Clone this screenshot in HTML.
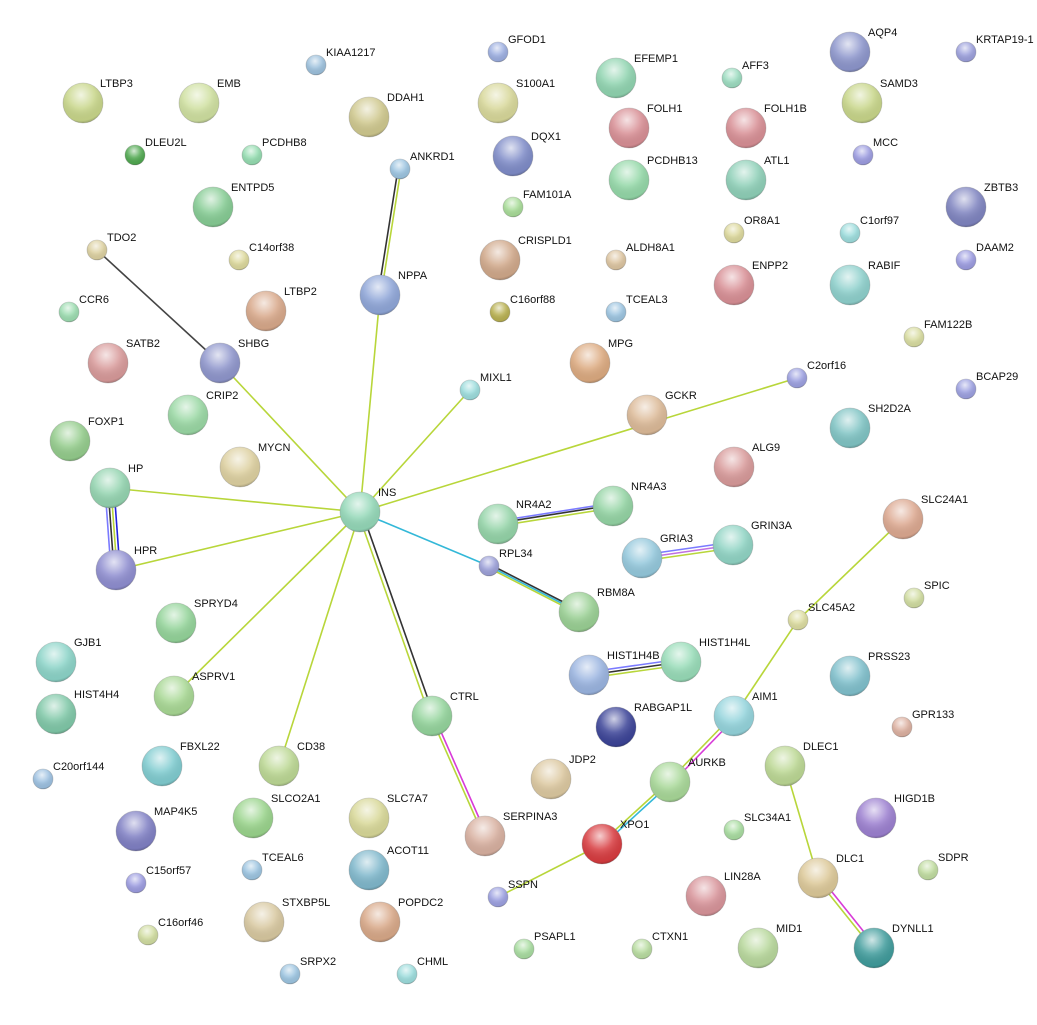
<!DOCTYPE html>
<html><head><meta charset="utf-8"><style>
html,body{margin:0;padding:0;background:#fff;}
svg text{font-family:"Liberation Sans",sans-serif;font-size:11px;fill:#111;}
</style></head><body>
<svg width="1037" height="1020" viewBox="0 0 1037 1020" xmlns="http://www.w3.org/2000/svg">
<defs>
<radialGradient id="hl" cx="0.45" cy="0.3" r="0.75">
<stop offset="0" stop-color="#fff" stop-opacity="0.75"/>
<stop offset="0.45" stop-color="#fff" stop-opacity="0.15"/>
<stop offset="0.85" stop-color="#000" stop-opacity="0.05"/>
<stop offset="1" stop-color="#000" stop-opacity="0.35"/>
</radialGradient>
</defs>
<g stroke-width="1.6" fill="none">
<line x1="97" y1="250" x2="220" y2="363" stroke="#444"/>
<line x1="220" y1="363" x2="360" y2="512" stroke="#b8d63a"/>
<line x1="398" y1="169" x2="378" y2="295" stroke="#333"/>
<line x1="401" y1="169" x2="381" y2="295" stroke="#b8d63a"/>
<line x1="380" y1="295" x2="360" y2="512" stroke="#b8d63a"/>
<line x1="470" y1="390" x2="360" y2="512" stroke="#b8d63a"/>
<line x1="797" y1="378" x2="360" y2="512" stroke="#b8d63a"/>
<line x1="110" y1="488" x2="360" y2="512" stroke="#b8d63a"/>
<line x1="116" y1="570" x2="360" y2="512" stroke="#b8d63a"/>
<line x1="105" y1="488" x2="111" y2="570" stroke="#7a7aff"/>
<line x1="108" y1="488" x2="114" y2="570" stroke="#333"/>
<line x1="111" y1="488" x2="117" y2="570" stroke="#b8d63a"/>
<line x1="114" y1="488" x2="120" y2="570" stroke="#2222dd"/>
<line x1="360" y1="512" x2="174" y2="696" stroke="#b8d63a"/>
<line x1="360" y1="512" x2="279" y2="766" stroke="#b8d63a"/>
<line x1="360" y1="512" x2="489" y2="566" stroke="#33b8d8"/>
<line x1="362" y1="512" x2="434" y2="716" stroke="#333"/>
<line x1="358" y1="513" x2="430" y2="717" stroke="#b8d63a"/>
<line x1="434" y1="716" x2="487" y2="836" stroke="#d83ad8"/>
<line x1="431" y1="717" x2="484" y2="837" stroke="#b8d63a"/>
<line x1="489" y1="564" x2="579" y2="610" stroke="#333"/>
<line x1="489" y1="566" x2="579" y2="612" stroke="#33b8d8"/>
<line x1="489" y1="568" x2="579" y2="614" stroke="#b8d63a"/>
<line x1="498" y1="521" x2="613" y2="503" stroke="#7a7aff"/>
<line x1="498" y1="523" x2="613" y2="505" stroke="#333"/>
<line x1="498" y1="526" x2="613" y2="508" stroke="#b8d63a"/>
<line x1="642" y1="555" x2="733" y2="542" stroke="#7a7aff"/>
<line x1="642" y1="558" x2="733" y2="545" stroke="#c070e0"/>
<line x1="642" y1="561" x2="733" y2="548" stroke="#b8d63a"/>
<line x1="589" y1="672" x2="681" y2="659" stroke="#7a7aff"/>
<line x1="589" y1="675" x2="681" y2="662" stroke="#333"/>
<line x1="589" y1="678" x2="681" y2="665" stroke="#b8d63a"/>
<line x1="903" y1="519" x2="798" y2="620" stroke="#b8d63a"/>
<line x1="798" y1="620" x2="734" y2="716" stroke="#b8d63a"/>
<line x1="736" y1="717" x2="672" y2="783" stroke="#d83ad8"/>
<line x1="733" y1="715" x2="669" y2="781" stroke="#b8d63a"/>
<line x1="671" y1="783" x2="603" y2="845" stroke="#33b8d8"/>
<line x1="669" y1="781" x2="601" y2="843" stroke="#b8d63a"/>
<line x1="602" y1="844" x2="498" y2="897" stroke="#b8d63a"/>
<line x1="785" y1="766" x2="818" y2="878" stroke="#b8d63a"/>
<line x1="820" y1="877" x2="876" y2="947" stroke="#d83ad8"/>
<line x1="817" y1="879" x2="873" y2="949" stroke="#b8d63a"/>
</g>
<g stroke="#777" stroke-opacity="0.35" stroke-width="0.8">
<!-- big nodes -->
<circle cx="83" cy="103" r="20" fill="#c8d68a"/><circle cx="199" cy="103" r="20" fill="#cfe0a0"/>
<circle cx="369" cy="117" r="20" fill="#cfc88e"/><circle cx="498" cy="103" r="20" fill="#d8d89a"/>
<circle cx="616" cy="78" r="20" fill="#90d4b0"/><circle cx="850" cy="52" r="20" fill="#8d96cc"/>
<circle cx="862" cy="103" r="20" fill="#c8d68a"/><circle cx="629" cy="128" r="20" fill="#d88f95"/>
<circle cx="746" cy="128" r="20" fill="#d88f95"/><circle cx="513" cy="156" r="20" fill="#7f8cc8"/>
<circle cx="629" cy="180" r="20" fill="#94d8a8"/><circle cx="746" cy="180" r="20" fill="#8fd0b8"/>
<circle cx="213" cy="207" r="20" fill="#86cc94"/><circle cx="966" cy="207" r="20" fill="#7f84c0"/>
<circle cx="500" cy="260" r="20" fill="#d0a88a"/><circle cx="380" cy="295" r="20" fill="#8fa6d8"/>
<circle cx="266" cy="311" r="20" fill="#d8a88a"/><circle cx="734" cy="285" r="20" fill="#d88f95"/>
<circle cx="850" cy="285" r="20" fill="#8ed0cc"/><circle cx="108" cy="363" r="20" fill="#d89a9a"/>
<circle cx="220" cy="363" r="20" fill="#8f96cc"/><circle cx="590" cy="363" r="20" fill="#dcaa80"/>
<circle cx="188" cy="415" r="20" fill="#9ad8a4"/><circle cx="647" cy="415" r="20" fill="#dcba98"/>
<circle cx="850" cy="428" r="20" fill="#80c4c4"/><circle cx="70" cy="441" r="20" fill="#94cc8c"/>
<circle cx="240" cy="467" r="20" fill="#ddd0a0"/><circle cx="734" cy="467" r="20" fill="#d89a9a"/>
<circle cx="110" cy="488" r="20" fill="#94d4b0"/><circle cx="360" cy="512" r="20" fill="#94d8b8"/>
<circle cx="498" cy="524" r="20" fill="#94d4a8"/><circle cx="613" cy="506" r="20" fill="#94d4a4"/>
<circle cx="903" cy="519" r="20" fill="#dca890"/><circle cx="642" cy="558" r="20" fill="#94c8dc"/>
<circle cx="733" cy="545" r="20" fill="#90d4c4"/><circle cx="116" cy="570" r="20" fill="#8f8ed0"/>
<circle cx="579" cy="612" r="20" fill="#9ad094"/><circle cx="176" cy="623" r="20" fill="#94d49a"/>
<circle cx="589" cy="675" r="20" fill="#9ab4e0"/><circle cx="681" cy="662" r="20" fill="#98dcb8"/>
<circle cx="850" cy="676" r="20" fill="#80c0cc"/><circle cx="56" cy="662" r="20" fill="#8cd4c8"/>
<circle cx="174" cy="696" r="20" fill="#a8d894"/><circle cx="56" cy="714" r="20" fill="#80c8a8"/>
<circle cx="432" cy="716" r="20" fill="#94d49c"/><circle cx="734" cy="716" r="20" fill="#94d4dc"/>
<circle cx="616" cy="727" r="20" fill="#3c4498"/><circle cx="162" cy="766" r="20" fill="#80ccd0"/>
<circle cx="279" cy="766" r="20" fill="#bcd894"/><circle cx="785" cy="766" r="20" fill="#bcd894"/>
<circle cx="551" cy="779" r="20" fill="#dcc8a0"/><circle cx="670" cy="782" r="20" fill="#a8d898"/>
<circle cx="253" cy="818" r="20" fill="#9ad48c"/><circle cx="369" cy="818" r="20" fill="#d8d898"/>
<circle cx="136" cy="831" r="20" fill="#8080c4"/><circle cx="876" cy="818" r="20" fill="#9c80d0"/>
<circle cx="485" cy="836" r="20" fill="#d8b0a0"/><circle cx="602" cy="844" r="20" fill="#d83c40"/>
<circle cx="369" cy="870" r="20" fill="#80b8cc"/><circle cx="818" cy="878" r="20" fill="#dcc898"/>
<circle cx="706" cy="896" r="20" fill="#d8949a"/><circle cx="264" cy="922" r="20" fill="#d8c8a0"/>
<circle cx="380" cy="922" r="20" fill="#d8a888"/><circle cx="758" cy="948" r="20" fill="#b8d89c"/>
<circle cx="874" cy="948" r="20" fill="#409c9c"/>
<!-- small nodes -->
<circle cx="316" cy="65" r="10" fill="#9cc0dc"/><circle cx="498" cy="52" r="10" fill="#9caee0"/>
<circle cx="966" cy="52" r="10" fill="#9ca0dc"/><circle cx="732" cy="78" r="10" fill="#9cdcc0"/>
<circle cx="135" cy="155" r="10" fill="#50a850"/><circle cx="252" cy="155" r="10" fill="#94dcb0"/>
<circle cx="400" cy="169" r="10" fill="#9cc4e0"/><circle cx="863" cy="155" r="10" fill="#9c9ce0"/>
<circle cx="513" cy="207" r="10" fill="#a8dc98"/><circle cx="97" cy="250" r="10" fill="#dcd0a0"/>
<circle cx="239" cy="260" r="10" fill="#dcd89c"/><circle cx="734" cy="233" r="10" fill="#dcd89c"/>
<circle cx="850" cy="233" r="10" fill="#9cdcdc"/><circle cx="966" cy="260" r="10" fill="#9c9ce0"/>
<circle cx="616" cy="260" r="10" fill="#dcc4a0"/><circle cx="69" cy="312" r="10" fill="#9cdcb0"/>
<circle cx="500" cy="312" r="10" fill="#b8b050"/><circle cx="616" cy="312" r="10" fill="#9cc4e0"/>
<circle cx="914" cy="337" r="10" fill="#d8dca0"/><circle cx="470" cy="390" r="10" fill="#9cdcdc"/>
<circle cx="797" cy="378" r="10" fill="#9ca0e0"/><circle cx="966" cy="389" r="10" fill="#9ca0e0"/>
<circle cx="489" cy="566" r="10" fill="#9ca0d8"/><circle cx="914" cy="598" r="10" fill="#d0dca0"/>
<circle cx="798" cy="620" r="10" fill="#dcdca0"/><circle cx="902" cy="727" r="10" fill="#dcb0a0"/>
<circle cx="43" cy="779" r="10" fill="#9cc0e0"/><circle cx="734" cy="830" r="10" fill="#a8dca0"/>
<circle cx="136" cy="883" r="10" fill="#9c9ce0"/><circle cx="252" cy="870" r="10" fill="#9cc4e0"/>
<circle cx="498" cy="897" r="10" fill="#9ca0e0"/><circle cx="928" cy="870" r="10" fill="#c0dca0"/>
<circle cx="148" cy="935" r="10" fill="#d0dca0"/><circle cx="524" cy="949" r="10" fill="#a8dca0"/>
<circle cx="642" cy="949" r="10" fill="#b8dca0"/><circle cx="290" cy="974" r="10" fill="#9cc4e0"/>
<circle cx="407" cy="974" r="10" fill="#9cdcdc"/>
</g>
<g fill="url(#hl)">
<circle cx="83" cy="103" r="20"/><circle cx="199" cy="103" r="20"/><circle cx="369" cy="117" r="20"/><circle cx="498" cy="103" r="20"/>
<circle cx="616" cy="78" r="20"/><circle cx="850" cy="52" r="20"/><circle cx="862" cy="103" r="20"/><circle cx="629" cy="128" r="20"/>
<circle cx="746" cy="128" r="20"/><circle cx="513" cy="156" r="20"/><circle cx="629" cy="180" r="20"/><circle cx="746" cy="180" r="20"/>
<circle cx="213" cy="207" r="20"/><circle cx="966" cy="207" r="20"/><circle cx="500" cy="260" r="20"/><circle cx="380" cy="295" r="20"/>
<circle cx="266" cy="311" r="20"/><circle cx="734" cy="285" r="20"/><circle cx="850" cy="285" r="20"/><circle cx="108" cy="363" r="20"/>
<circle cx="220" cy="363" r="20"/><circle cx="590" cy="363" r="20"/><circle cx="188" cy="415" r="20"/><circle cx="647" cy="415" r="20"/>
<circle cx="850" cy="428" r="20"/><circle cx="70" cy="441" r="20"/><circle cx="240" cy="467" r="20"/><circle cx="734" cy="467" r="20"/>
<circle cx="110" cy="488" r="20"/><circle cx="360" cy="512" r="20"/><circle cx="498" cy="524" r="20"/><circle cx="613" cy="506" r="20"/>
<circle cx="903" cy="519" r="20"/><circle cx="642" cy="558" r="20"/><circle cx="733" cy="545" r="20"/><circle cx="116" cy="570" r="20"/>
<circle cx="579" cy="612" r="20"/><circle cx="176" cy="623" r="20"/><circle cx="589" cy="675" r="20"/><circle cx="681" cy="662" r="20"/>
<circle cx="850" cy="676" r="20"/><circle cx="56" cy="662" r="20"/><circle cx="174" cy="696" r="20"/><circle cx="56" cy="714" r="20"/>
<circle cx="432" cy="716" r="20"/><circle cx="734" cy="716" r="20"/><circle cx="616" cy="727" r="20"/><circle cx="162" cy="766" r="20"/>
<circle cx="279" cy="766" r="20"/><circle cx="785" cy="766" r="20"/><circle cx="551" cy="779" r="20"/><circle cx="670" cy="782" r="20"/>
<circle cx="253" cy="818" r="20"/><circle cx="369" cy="818" r="20"/><circle cx="136" cy="831" r="20"/><circle cx="876" cy="818" r="20"/>
<circle cx="485" cy="836" r="20"/><circle cx="602" cy="844" r="20"/><circle cx="369" cy="870" r="20"/><circle cx="818" cy="878" r="20"/>
<circle cx="706" cy="896" r="20"/><circle cx="264" cy="922" r="20"/><circle cx="380" cy="922" r="20"/><circle cx="758" cy="948" r="20"/>
<circle cx="874" cy="948" r="20"/>
<circle cx="316" cy="65" r="10"/><circle cx="498" cy="52" r="10"/><circle cx="966" cy="52" r="10"/><circle cx="732" cy="78" r="10"/>
<circle cx="135" cy="155" r="10"/><circle cx="252" cy="155" r="10"/><circle cx="400" cy="169" r="10"/><circle cx="863" cy="155" r="10"/>
<circle cx="513" cy="207" r="10"/><circle cx="97" cy="250" r="10"/><circle cx="239" cy="260" r="10"/><circle cx="734" cy="233" r="10"/>
<circle cx="850" cy="233" r="10"/><circle cx="966" cy="260" r="10"/><circle cx="616" cy="260" r="10"/><circle cx="69" cy="312" r="10"/>
<circle cx="500" cy="312" r="10"/><circle cx="616" cy="312" r="10"/><circle cx="914" cy="337" r="10"/><circle cx="470" cy="390" r="10"/>
<circle cx="797" cy="378" r="10"/><circle cx="966" cy="389" r="10"/><circle cx="489" cy="566" r="10"/><circle cx="914" cy="598" r="10"/>
<circle cx="798" cy="620" r="10"/><circle cx="902" cy="727" r="10"/><circle cx="43" cy="779" r="10"/><circle cx="734" cy="830" r="10"/>
<circle cx="136" cy="883" r="10"/><circle cx="252" cy="870" r="10"/><circle cx="498" cy="897" r="10"/><circle cx="928" cy="870" r="10"/>
<circle cx="148" cy="935" r="10"/><circle cx="524" cy="949" r="10"/><circle cx="642" cy="949" r="10"/><circle cx="290" cy="974" r="10"/>
<circle cx="407" cy="974" r="10"/>
</g>
<g>
<text x="100" y="87">LTBP3</text><text x="217" y="87">EMB</text><text x="387" y="101">DDAH1</text><text x="516" y="87">S100A1</text>
<text x="634" y="62">EFEMP1</text><text x="868" y="36">AQP4</text><text x="880" y="87">SAMD3</text><text x="647" y="112">FOLH1</text>
<text x="764" y="112">FOLH1B</text><text x="531" y="140">DQX1</text><text x="647" y="164">PCDHB13</text><text x="764" y="164">ATL1</text>
<text x="231" y="191">ENTPD5</text><text x="984" y="191">ZBTB3</text><text x="518" y="244">CRISPLD1</text><text x="398" y="279">NPPA</text>
<text x="284" y="295">LTBP2</text><text x="752" y="269">ENPP2</text><text x="868" y="269">RABIF</text><text x="126" y="347">SATB2</text>
<text x="238" y="347">SHBG</text><text x="608" y="347">MPG</text><text x="206" y="399">CRIP2</text><text x="665" y="399">GCKR</text>
<text x="868" y="412">SH2D2A</text><text x="88" y="425">FOXP1</text><text x="258" y="451">MYCN</text><text x="752" y="451">ALG9</text>
<text x="128" y="472">HP</text><text x="378" y="496">INS</text><text x="516" y="508">NR4A2</text><text x="631" y="490">NR4A3</text>
<text x="921" y="503">SLC24A1</text><text x="660" y="542">GRIA3</text><text x="751" y="529">GRIN3A</text><text x="134" y="554">HPR</text>
<text x="597" y="596">RBM8A</text><text x="194" y="607">SPRYD4</text><text x="607" y="659">HIST1H4B</text><text x="699" y="646">HIST1H4L</text>
<text x="868" y="660">PRSS23</text><text x="74" y="646">GJB1</text><text x="192" y="680">ASPRV1</text><text x="74" y="698">HIST4H4</text>
<text x="450" y="700">CTRL</text><text x="752" y="700">AIM1</text><text x="634" y="711">RABGAP1L</text><text x="180" y="750">FBXL22</text>
<text x="297" y="750">CD38</text><text x="803" y="750">DLEC1</text><text x="569" y="763">JDP2</text><text x="688" y="766">AURKB</text>
<text x="271" y="802">SLCO2A1</text><text x="387" y="802">SLC7A7</text><text x="154" y="815">MAP4K5</text><text x="894" y="802">HIGD1B</text>
<text x="503" y="820">SERPINA3</text><text x="620" y="828">XPO1</text><text x="387" y="854">ACOT11</text><text x="836" y="862">DLC1</text>
<text x="724" y="880">LIN28A</text><text x="282" y="906">STXBP5L</text><text x="398" y="906">POPDC2</text><text x="776" y="932">MID1</text>
<text x="892" y="932">DYNLL1</text>
<text x="326" y="56">KIAA1217</text><text x="508" y="43">GFOD1</text><text x="976" y="43">KRTAP19-1</text><text x="742" y="69">AFF3</text>
<text x="145" y="146">DLEU2L</text><text x="262" y="146">PCDHB8</text><text x="410" y="160">ANKRD1</text><text x="873" y="146">MCC</text>
<text x="523" y="198">FAM101A</text><text x="107" y="241">TDO2</text><text x="249" y="251">C14orf38</text><text x="744" y="224">OR8A1</text>
<text x="860" y="224">C1orf97</text><text x="976" y="251">DAAM2</text><text x="626" y="251">ALDH8A1</text><text x="79" y="303">CCR6</text>
<text x="510" y="303">C16orf88</text><text x="626" y="303">TCEAL3</text><text x="924" y="328">FAM122B</text><text x="480" y="381">MIXL1</text>
<text x="807" y="369">C2orf16</text><text x="976" y="380">BCAP29</text><text x="499" y="557">RPL34</text><text x="924" y="589">SPIC</text>
<text x="808" y="611">SLC45A2</text><text x="912" y="718">GPR133</text><text x="53" y="770">C20orf144</text><text x="744" y="821">SLC34A1</text>
<text x="146" y="874">C15orf57</text><text x="262" y="861">TCEAL6</text><text x="508" y="888">SSPN</text><text x="938" y="861">SDPR</text>
<text x="158" y="926">C16orf46</text><text x="534" y="940">PSAPL1</text><text x="652" y="940">CTXN1</text><text x="300" y="965">SRPX2</text>
<text x="417" y="965">CHML</text>
</g>
</svg>
</body></html>
